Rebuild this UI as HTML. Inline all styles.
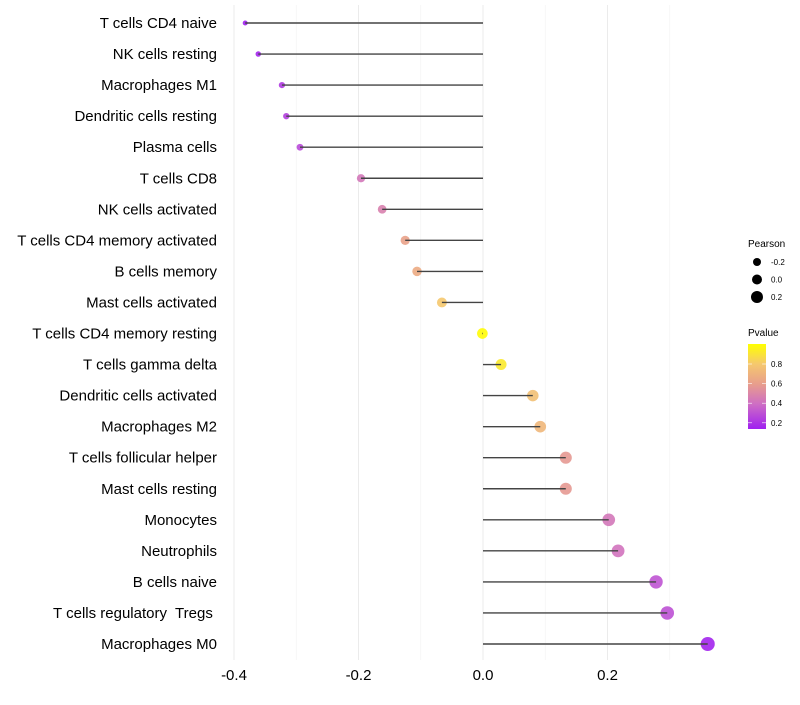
<!DOCTYPE html>
<html><head><meta charset="utf-8"><style>
body{margin:0;background:#fff;font-family:"Liberation Sans",sans-serif}
svg text{font-family:"Liberation Sans",sans-serif;white-space:pre}
</style></head><body>
<svg id="c" width="800" height="700"></svg>
<script>
const categories=["T cells CD4 naive","NK cells resting","Macrophages M1","Dendritic cells resting","Plasma cells","T cells CD8","NK cells activated","T cells CD4 memory activated","B cells memory","Mast cells activated","T cells CD4 memory resting","T cells gamma delta","Dendritic cells activated","Macrophages M2","T cells follicular helper","Mast cells resting","Monocytes","Neutrophils","B cells naive","T cells regulatory  Tregs ","Macrophages M0"];
const pearson=[-0.382,-0.361,-0.323,-0.316,-0.294,-0.196,-0.162,-0.125,-0.106,-0.066,-0.001,0.029,0.080,0.092,0.133,0.133,0.202,0.217,0.278,0.296,0.361];
const pvalue=[0.10,0.12,0.20,0.22,0.26,0.44,0.48,0.62,0.66,0.80,0.99,0.92,0.76,0.72,0.58,0.58,0.44,0.42,0.30,0.29,0.12];
const xTicks=[-0.4,-0.2,0.0,0.2];
const xTickLabels=["-0.4","-0.2","0.0","0.2"];
const xMinor=[-0.3,-0.1,0.1,0.3];
const sizeLegend=[-0.2,0.0,0.2];
const colorTicks=[0.8,0.6,0.4,0.2];

const NS="http://www.w3.org/2000/svg",svg=document.getElementById("c");
function mk(t,a,p){const e=document.createElementNS(NS,t);for(const k in a)e.setAttribute(k,a[k]);(p||svg).appendChild(e);return e;}
const x=v=>483+v*622.5;
const y=i=>23+i*31.05;
const rad=v=>Math.sqrt(Math.max(3,28.5+58*v));
const stops=[[0.1,[160,32,240]],[0.4,[206,110,196]],[0.6,[232,158,140]],[0.8,[245,200,110]],[1.0,[255,255,0]]];
function col(p){p=Math.max(0.1,Math.min(1,p));for(let i=0;i<stops.length-1;i++){const[a,ca]=stops[i],[b,cb]=stops[i+1];if(p<=b){const t=(p-a)/(b-a);return "rgb("+ca.map((c,j)=>Math.round(c+(cb[j]-c)*t)).join(",")+")";}}return "rgb(255,255,0)";}

xMinor.forEach(v=>{const l=mk("line",{x1:x(v),x2:x(v),y1:5,y2:660,stroke:"#f2f2f2","stroke-width":0.6});

});
xTicks.forEach((v,i)=>{const l=mk("line",{x1:x(v),x2:x(v),y1:5,y2:660,stroke:"#ebebeb","stroke-width":1});


const t=mk("text",{x:x(v),y:680,"text-anchor":"middle","font-size":15,fill:"#000"});t.textContent=xTickLabels[i];

});
categories.forEach((c,i)=>{
const t=mk("text",{x:217,y:y(i)+5,"text-anchor":"end","font-size":15,fill:"#000"});t.textContent=c;


const d=mk("circle",{cx:x(pearson[i]),cy:y(i),r:rad(pearson[i]),fill:col(pvalue[i]),"fill-opacity":0.9});


const l=mk("line",{x1:x(0),x2:x(pearson[i]),y1:y(i),y2:y(i),stroke:"#444","stroke-width":1.4});


});
let t=mk("text",{x:748,y:247,"font-size":10,fill:"#000"});t.textContent="Pearson";


sizeLegend.forEach((v,i)=>{const cy=262+i*17.5;
const c=mk("circle",{cx:757,cy:cy,r:[4,5,6][i],fill:"#000"});


const s=mk("text",{x:771,y:cy+3,"font-size":8,fill:"#000"});s.textContent=(v===0?"0.0":v.toFixed(1));

});
t=mk("text",{x:748,y:336,"font-size":10,fill:"#000"});t.textContent="Pvalue";


const defs=mk("defs",{});const g=mk("linearGradient",{id:"pg",x1:0,y1:1,x2:0,y2:0},defs);
stops.forEach(s=>mk("stop",{offset:Math.max(0,(s[0]-0.15)/0.85),"stop-color":"rgb("+s[1].join(",")+")"},g));
const bar=mk("rect",{x:748,y:344,width:18,height:85,fill:"url(#pg)"});


colorTicks.forEach(v=>{const py=364+(0.8-v)/0.2*19.6;
mk("line",{x1:748,x2:752,y1:py,y2:py,stroke:"#fff","stroke-width":0.6});mk("line",{x1:762,x2:766,y1:py,y2:py,stroke:"#fff","stroke-width":0.6});
const s=mk("text",{x:771,y:py+3,"font-size":8,fill:"#000"});s.textContent=v.toFixed(1);

});
</script>
</body></html>
